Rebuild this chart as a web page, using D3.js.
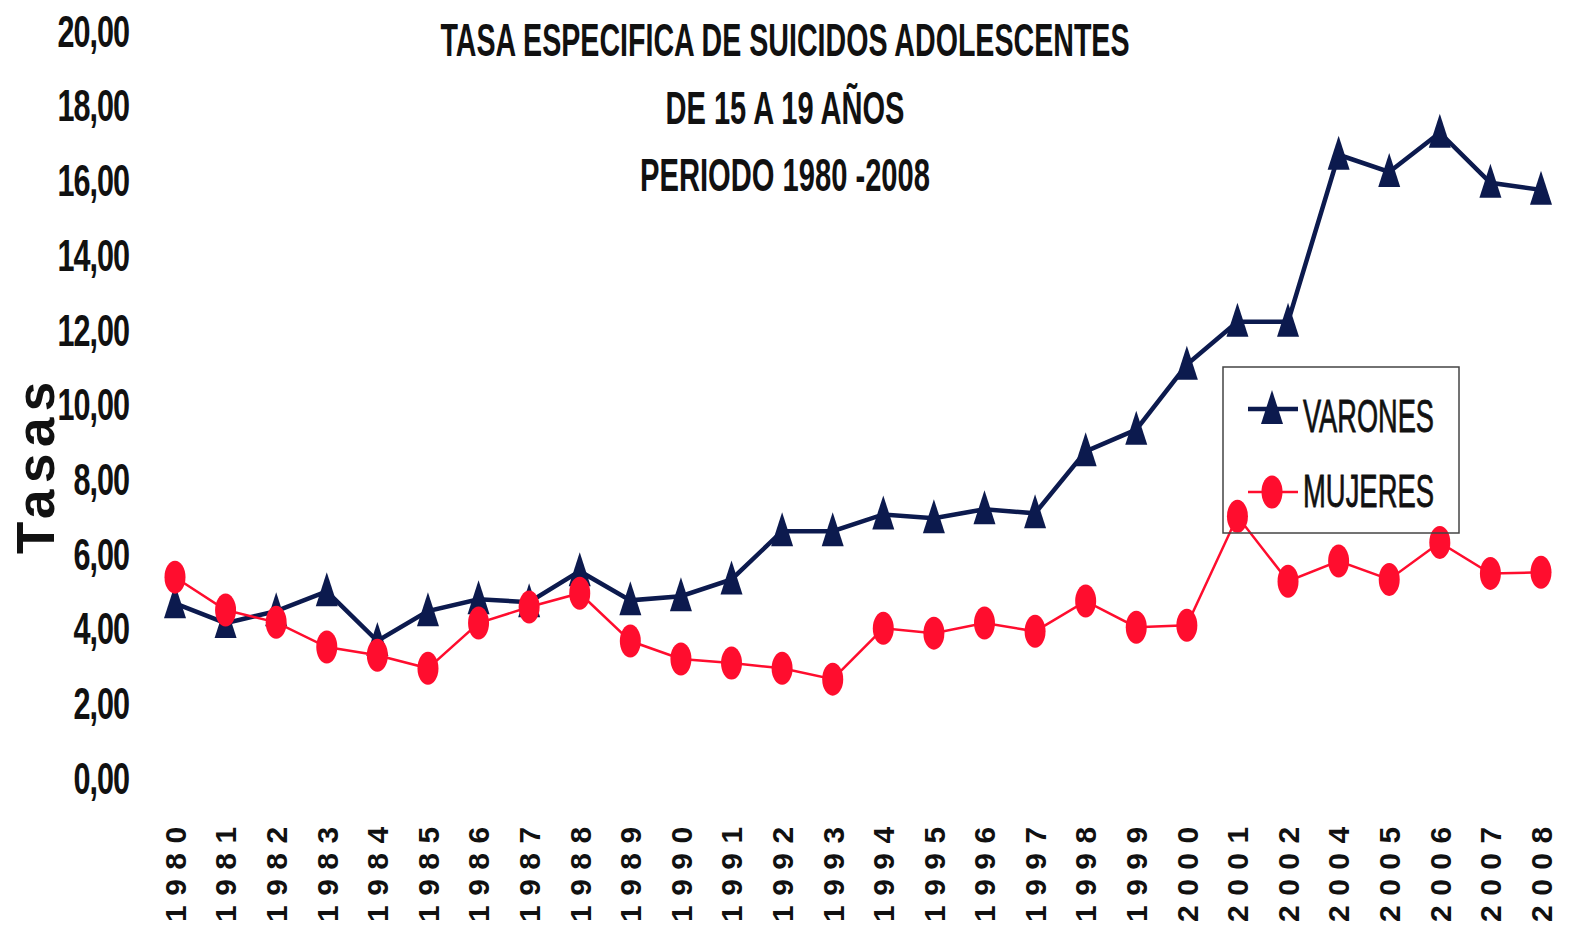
<!DOCTYPE html>
<html>
<head>
<meta charset="utf-8">
<script src="https://cdn.jsdelivr.net/npm/d3@7"></script>
<style>
  body { margin: 0; background: #fff; }
  svg { display: block; }
</style>
</head>
<body>
<svg></svg>
<script>
const width = 1578;
const height = 929;

// data
const years = ["1980","1981","1982","1983","1984","1985","1986","1987","1988","1989",
  "1990","1991","1992","1993","1994","1995","1996","1997","1998","1999",
  "2000","2001","2002","2004","2005","2006","2007","2008"];
const varones = [4.65,4.12,4.44,4.97,3.64,4.44,4.76,4.68,5.51,4.73,
  4.84,5.29,6.58,6.58,7.03,6.93,7.17,7.06,8.72,9.30,
  11.04,12.19,12.19,16.66,16.20,17.25,15.91,15.72];
const mujeres = [5.35,4.47,4.14,3.48,3.26,2.91,4.12,4.55,4.92,3.64,
  3.16,3.05,2.91,2.62,3.98,3.85,4.12,3.90,4.71,4.01,
  4.06,6.98,5.24,5.78,5.29,6.28,5.45,5.48];
const yTicks = [0,2,4,6,8,10,12,14,16,18,20];
const titleLines = ["TASA ESPECIFICA DE SUICIDOS ADOLESCENTES", "DE 15 A 19 AÑOS", "PERIODO 1980 -2008"];
const titleWidths = [689, 239, 290];
const legendNames = ["VARONES", "MUJERES"];

const blue = "#0c1a4e";
const red = "#ff0d2e";
const font = "'Liberation Sans', Arial, sans-serif";

let svg = d3.select("svg").attr("width", width).attr("height", height);

let x = d3.scalePoint().domain(years).range([175, 1541]);
let y = d3.scaleLinear().domain([0, 20]).range([777, 30]);

// y axis (labels only), squeezed to look condensed
let yAxis = d3.axisLeft(y).tickValues(yTicks).tickSize(0).tickPadding(0)
  .tickFormat(d => d3.format(".2f")(d).replace(".", ","));
let gy = svg.append("g").attr("transform", "translate(129,0)").call(yAxis);
gy.select(".domain").remove();
gy.selectAll("text")
  .attr("font-family", font)
  .attr("font-weight", "bold")
  .attr("font-size", 45)
  .attr("letter-spacing", -1.5)
  .attr("dy", "0.36em")
  .attr("transform", "scale(0.68,1)")
  .attr("fill", "#111");

// x axis, vertical labels read bottom to top
let gx = svg.append("g");
gx.selectAll(".xl").data(years).enter().append("text")
  .attr("class", "xl")
  .attr("transform", d => `translate(${x(d)},922) rotate(-90)`)
  .attr("dy", "0.36em")
  .attr("font-family", font)
  .attr("font-weight", "bold")
  .attr("font-size", 30)
  .attr("letter-spacing", 9.5)
  .attr("fill", "#111")
  .text(d => d);

// axis title
svg.append("text")
  .attr("transform", "translate(54,554) rotate(-90)")
  .attr("font-family", font)
  .attr("font-weight", "bold")
  .attr("font-size", 53)
  .attr("letter-spacing", 6.5)
  .attr("fill", "#111")
  .text("Tasas");

// title
svg.selectAll(".title").data(titleLines).enter().append("text")
  .attr("class", "title")
  .attr("x", 785)
  .attr("y", (d, i) => [56, 124, 191][i])
  .attr("text-anchor", "middle")
  .attr("font-family", font)
  .attr("font-weight", "bold")
  .attr("font-size", 47)
  .attr("textLength", (d, i) => titleWidths[i])
  .attr("lengthAdjust", "spacingAndGlyphs")
  .attr("fill", "#111")
  .text(d => d);

let line = d3.line().x((d, i) => x(years[i])).y(d => y(d));

function triPath(cx, cy) {
  return `M${cx},${cy - 19} L${cx + 11},${cy + 15} L${cx - 11},${cy + 15} Z`;
}

// varones
svg.append("path").datum(varones)
  .attr("d", line)
  .attr("fill", "none")
  .attr("stroke", blue)
  .attr("stroke-width", 4.5);
svg.selectAll(".tv").data(varones).enter().append("path")
  .attr("class", "tv")
  .attr("d", (d, i) => triPath(x(years[i]), y(d)))
  .attr("fill", blue);

// mujeres
svg.append("path").datum(mujeres)
  .attr("d", line)
  .attr("fill", "none")
  .attr("stroke", red)
  .attr("stroke-width", 2.5);
svg.selectAll(".cm").data(mujeres).enter().append("ellipse")
  .attr("class", "cm")
  .attr("cx", (d, i) => x(years[i]))
  .attr("cy", d => y(d))
  .attr("rx", 10.5)
  .attr("ry", 16.5)
  .attr("fill", red);

// legend
let lg = svg.append("g").attr("transform", "translate(1223,367)");
lg.append("rect")
  .attr("width", 236).attr("height", 166)
  .attr("fill", "none").attr("stroke", "#444").attr("stroke-width", 1.5);
lg.append("line").attr("x1", 25).attr("x2", 75).attr("y1", 42).attr("y2", 42)
  .attr("stroke", blue).attr("stroke-width", 4.5);
lg.append("path").attr("d", triPath(49, 42)).attr("fill", blue);
lg.append("line").attr("x1", 25).attr("x2", 75).attr("y1", 125).attr("y2", 125)
  .attr("stroke", red).attr("stroke-width", 2.5);
lg.append("ellipse").attr("cx", 49).attr("cy", 125).attr("rx", 10.5).attr("ry", 16.5).attr("fill", red);
lg.selectAll(".lt").data(legendNames).enter().append("text")
  .attr("class", "lt")
  .attr("x", 80)
  .attr("y", (d, i) => [65, 140][i])
  .attr("font-family", font)
  .attr("font-size", 46)
  .attr("textLength", 131)
  .attr("lengthAdjust", "spacingAndGlyphs")
  .attr("fill", "#111")
  .attr("stroke", "#111")
  .attr("stroke-width", 0.8)
  .text(d => d);
</script>
</body>
</html>
